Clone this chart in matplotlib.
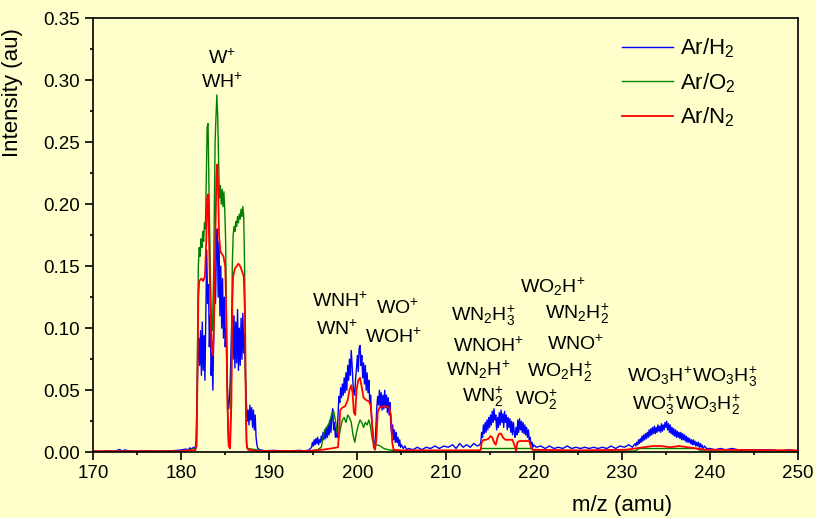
import matplotlib
matplotlib.use("Agg")
import matplotlib.pyplot as plt
from matplotlib.ticker import MultipleLocator, FormatStrFormatter

plt.rcParams["font.family"] = ["Liberation Sans", "DejaVu Sans"]
plt.rcParams["mathtext.fontset"] = "custom"
plt.rcParams["mathtext.rm"] = "Liberation Sans"
plt.rcParams["mathtext.it"] = "Liberation Sans"
plt.rcParams["mathtext.bf"] = "Liberation Sans:bold"
plt.rcParams["mathtext.default"] = "regular"

# ---- data ----
# Ar/H2 (blue)
h2_mz = [170.0, 171.0, 171.8, 172.5, 173.0, 173.3, 173.6, 174.0, 175.0, 176.0, 177.0, 178.0, 179.0,
         180.0, 180.5, 180.8, 181.0, 181.2, 181.4, 181.6,
         181.7, 181.8, 181.9, 182.0, 182.1, 182.2, 182.3, 182.4, 182.5, 182.6, 182.7, 182.8, 182.9,
         183.0, 183.1, 183.2, 183.3, 183.4, 183.5, 183.6, 183.7, 183.8, 183.9,
         184.0, 184.1, 184.2, 184.3, 184.4, 184.5, 184.6, 184.7, 184.8, 184.9,
         185.0, 185.1, 185.2, 185.3, 185.4, 185.5, 185.6, 185.7, 185.8, 185.9,
         186.0, 186.1, 186.2, 186.3, 186.4, 186.5, 186.6, 186.7, 186.8, 186.9,
         187.0, 187.1, 187.2, 187.3, 187.4, 187.5, 187.6, 187.7, 187.8, 187.9,
         188.0, 188.1, 188.2, 188.3, 188.4, 188.5, 188.6, 188.7, 188.9,
         189.5, 190.5, 191.5, 192.5, 193.5, 194.0, 194.5,
         194.8, 194.9, 195.0, 195.1, 195.2, 195.3, 195.4, 195.5, 195.6, 195.7, 195.8, 195.9,
         196.0, 196.1, 196.2, 196.3, 196.4, 196.5, 196.6, 196.7, 196.8, 196.9,
         197.0, 197.1, 197.2, 197.3, 197.4, 197.5, 197.6, 197.7, 197.8, 197.9,
         198.0, 198.1, 198.2, 198.3, 198.4, 198.5, 198.6, 198.7, 198.8, 198.9,
         199.0, 199.1, 199.2, 199.3, 199.4, 199.5, 199.6, 199.7, 199.8, 199.9,
         200.0, 200.1, 200.2, 200.3, 200.4, 200.5, 200.6, 200.7, 200.8, 200.9,
         201.0, 201.1, 201.2, 201.3, 201.4, 201.5, 201.6, 201.7, 201.8, 201.9,
         202.0, 202.1, 202.2, 202.3, 202.4, 202.5, 202.6, 202.7, 202.8, 202.9,
         203.0, 203.1, 203.2, 203.3, 203.4, 203.5, 203.6, 203.7, 203.8, 203.9,
         204.0, 204.1, 204.2, 204.3, 204.4, 204.5, 204.6, 204.7, 204.8, 204.9,
         205.0, 205.2, 205.4, 205.6,
         205.8, 206.3, 206.8, 207.3, 207.8, 208.3, 208.8, 209.3, 209.8, 210.3, 210.8,
         211.2, 211.6, 212.0, 212.4, 212.8, 213.2, 213.6, 213.9,
         214.0, 214.1, 214.2, 214.3, 214.4, 214.5, 214.6, 214.7, 214.8, 214.9,
         215.0, 215.1, 215.2, 215.3, 215.4, 215.5, 215.6, 215.7, 215.8, 215.9,
         216.0, 216.1, 216.2, 216.3, 216.4, 216.5, 216.6, 216.7, 216.8, 216.9,
         217.0, 217.1, 217.2, 217.3, 217.4, 217.5, 217.6, 217.7, 217.8, 217.9,
         218.0, 218.1, 218.2, 218.3, 218.4, 218.5, 218.6, 218.7, 218.8, 218.9,
         219.0, 219.1, 219.2, 219.3, 219.4, 219.5, 219.6, 219.7, 219.8, 219.9,
         220.0, 220.3,
         220.8, 221.3, 221.8, 222.3, 222.8, 223.3, 223.8, 224.3, 224.8, 225.3, 225.8,
         226.3, 226.8, 227.3, 227.8, 228.3, 228.8, 229.3, 229.8, 230.3, 230.8, 231.2,
         231.5, 231.6, 231.7, 231.8, 231.9,
         232.0, 232.1, 232.2, 232.3, 232.4, 232.5, 232.6, 232.7, 232.8, 232.9,
         233.0, 233.1, 233.2, 233.3, 233.4, 233.5, 233.6, 233.7, 233.8, 233.9,
         234.0, 234.1, 234.2, 234.3, 234.4, 234.5, 234.6, 234.7, 234.8, 234.9,
         235.0, 235.1, 235.2, 235.3, 235.4, 235.5, 235.6, 235.7, 235.8, 235.9,
         236.0, 236.1, 236.2, 236.3, 236.4, 236.5, 236.6, 236.7, 236.8, 236.9,
         237.0, 237.1, 237.2, 237.3, 237.4, 237.5, 237.6, 237.7, 237.8, 237.9,
         238.0, 238.1, 238.2, 238.3, 238.4, 238.5, 238.6, 238.7, 238.8, 238.9,
         239.0, 239.1, 239.2, 239.4, 239.6,
         240.0, 240.6, 241.2, 241.8, 242.5, 243.2, 244.0, 245.0, 246.0, 247.0, 248.0, 249.0, 250.0]
h2_int = [0.0008, 0.0006, 0.0012, 0.0008, 0.0022, 0.0010, 0.0018, 0.0012, 0.0008, 0.0012, 0.0009, 0.0010, 0.0012,
          0.0018, 0.0025, 0.0020, 0.0035, 0.0025, 0.0040, 0.0030,
          0.010, 0.045, 0.075, 0.092, 0.070, 0.098, 0.062, 0.105, 0.066, 0.094, 0.058, 0.110, 0.163,
          0.120, 0.135, 0.085, 0.110, 0.062, 0.080, 0.050, 0.095, 0.150, 0.120,
          0.165, 0.180, 0.125, 0.170, 0.110, 0.150, 0.100, 0.140, 0.092, 0.125,
          0.085, 0.100, 0.060, 0.042, 0.035, 0.045, 0.065, 0.095, 0.118, 0.075,
          0.110, 0.068, 0.105, 0.072, 0.115, 0.066, 0.100, 0.070, 0.108, 0.075,
          0.112, 0.080, 0.095, 0.060, 0.040, 0.025, 0.034, 0.022, 0.038, 0.026,
          0.036, 0.020, 0.034, 0.018, 0.030, 0.012, 0.006, 0.003, 0.002,
          0.0012, 0.0015, 0.0010, 0.0012, 0.0015, 0.0010, 0.0018,
          0.004, 0.008, 0.005, 0.010, 0.006, 0.011, 0.007, 0.012, 0.006, 0.010, 0.008, 0.013,
          0.009, 0.016, 0.010, 0.018, 0.011, 0.020, 0.012, 0.022, 0.014, 0.026,
          0.016, 0.030, 0.035, 0.018, 0.024, 0.012, 0.020, 0.012, 0.030, 0.045,
          0.040, 0.052, 0.044, 0.055, 0.046, 0.060, 0.048, 0.064, 0.050, 0.070,
          0.058, 0.075, 0.062, 0.082, 0.070, 0.055, 0.048, 0.046, 0.060, 0.068,
          0.078, 0.065, 0.084, 0.086, 0.070, 0.078, 0.060, 0.072, 0.055, 0.070,
          0.050, 0.064, 0.048, 0.058, 0.040, 0.046, 0.030, 0.020, 0.010, 0.006,
          0.008, 0.020, 0.036, 0.045, 0.038, 0.050, 0.036, 0.048, 0.034, 0.046,
          0.035, 0.050, 0.036, 0.046, 0.032, 0.044, 0.030, 0.040, 0.020, 0.014,
          0.022, 0.010, 0.018, 0.008, 0.016, 0.008, 0.012, 0.005, 0.010, 0.004,
          0.006, 0.003, 0.005, 0.002,
          0.003, 0.002, 0.004, 0.002, 0.004, 0.003, 0.005, 0.003, 0.005, 0.004, 0.006,
          0.003, 0.007, 0.004, 0.006, 0.004, 0.007, 0.005, 0.006,
          0.008, 0.016, 0.012, 0.022, 0.015, 0.024, 0.016, 0.026, 0.018, 0.028,
          0.020, 0.030, 0.022, 0.033, 0.024, 0.035, 0.026, 0.030, 0.018, 0.028,
          0.020, 0.032, 0.022, 0.034, 0.024, 0.031, 0.020, 0.033, 0.024, 0.030,
          0.018, 0.028, 0.020, 0.027, 0.016, 0.025, 0.014, 0.024, 0.016, 0.012,
          0.020, 0.014, 0.026, 0.016, 0.027, 0.018, 0.025, 0.016, 0.024, 0.015,
          0.022, 0.014, 0.020, 0.012, 0.018, 0.010, 0.012, 0.006, 0.008, 0.004,
          0.006, 0.004,
          0.005, 0.003, 0.005, 0.003, 0.004, 0.003, 0.005, 0.003, 0.004, 0.003, 0.004,
          0.003, 0.004, 0.003, 0.004, 0.003, 0.005, 0.003, 0.005, 0.004, 0.006, 0.004,
          0.007, 0.005, 0.008, 0.006, 0.010,
          0.007, 0.011, 0.008, 0.013, 0.009, 0.014, 0.010, 0.015, 0.011, 0.016,
          0.012, 0.018, 0.013, 0.019, 0.014, 0.020, 0.015, 0.021, 0.015, 0.020,
          0.016, 0.022, 0.017, 0.021, 0.016, 0.023, 0.017, 0.022, 0.018, 0.024,
          0.020, 0.025, 0.018, 0.023, 0.016, 0.022, 0.015, 0.020, 0.014, 0.019,
          0.013, 0.018, 0.012, 0.017, 0.012, 0.016, 0.011, 0.016, 0.010, 0.015,
          0.010, 0.014, 0.009, 0.013, 0.008, 0.012, 0.008, 0.011, 0.007, 0.010,
          0.006, 0.010, 0.006, 0.009, 0.005, 0.008, 0.005, 0.008, 0.004, 0.007,
          0.004, 0.006, 0.003, 0.005, 0.003,
          0.003, 0.002, 0.003, 0.002, 0.003, 0.002, 0.002, 0.002, 0.002, 0.002, 0.001, 0.002, 0.001]

# Ar/O2 (green)
o2_mz = [170.0, 175.0, 180.0, 180.5, 181.0, 181.4, 181.6,
         181.75, 181.85, 181.95, 182.05, 182.15, 182.25, 182.35, 182.45, 182.55, 182.65, 182.75,
         182.85, 182.95, 183.05, 183.15, 183.3, 183.45, 183.55, 183.7, 183.85, 183.95,
         184.05, 184.15, 184.25, 184.35, 184.45, 184.55, 184.65, 184.75, 184.85, 184.95,
         185.05, 185.15, 185.3, 185.4, 185.55, 185.7, 185.8, 185.9,
         186.0, 186.1, 186.2, 186.3, 186.4, 186.5, 186.6, 186.7, 186.8, 186.9,
         187.0, 187.1, 187.2, 187.3, 187.4, 187.55, 188.5, 189.5, 193.0,
         194.5, 195.5, 195.9, 196.1, 196.3, 196.5, 196.7, 196.9, 197.1, 197.3, 197.5, 197.7, 197.9,
         198.1, 198.3, 198.5, 198.7, 198.9, 199.1, 199.3, 199.5, 199.7, 199.9,
         200.1, 200.3, 200.5, 200.7, 200.9, 201.1, 201.3, 201.5, 201.7, 201.9,
         202.2, 202.6, 203.0, 203.5, 204.5,
         213.8, 214.1, 219.8, 220.1, 231.5, 232.0, 238.5, 239.0, 250.0]
o2_int = [0.0006, 0.0006, 0.0010, 0.0012, 0.0020, 0.0030, 0.0020,
          0.008, 0.080, 0.150, 0.165, 0.158, 0.172, 0.165, 0.178, 0.170, 0.185, 0.180,
          0.220, 0.262, 0.265, 0.215, 0.150, 0.100, 0.098, 0.150, 0.250, 0.270,
          0.288, 0.270, 0.235, 0.205, 0.215, 0.200, 0.212, 0.198, 0.210, 0.195,
          0.170, 0.100, 0.020, 0.005, 0.004, 0.060, 0.150, 0.175,
          0.182, 0.178, 0.186, 0.182, 0.190, 0.185, 0.192, 0.188, 0.196, 0.190,
          0.198, 0.190, 0.150, 0.060, 0.008, 0.003, 0.002, 0.001, 0.001,
          0.001, 0.002, 0.004, 0.012, 0.018, 0.020, 0.022, 0.026, 0.031, 0.033, 0.026, 0.016, 0.012,
          0.020, 0.026, 0.028, 0.024, 0.030, 0.028, 0.024, 0.014, 0.008, 0.016,
          0.022, 0.026, 0.024, 0.020, 0.024, 0.022, 0.026, 0.020, 0.010, 0.006,
          0.006, 0.005, 0.003, 0.002, 0.001,
          0.001, 0.003, 0.003, 0.001, 0.001, 0.003, 0.003, 0.001, 0.001]

# Ar/N2 (red)
n2_mz = [170.0, 180.0, 180.5, 181.5, 181.6,
         181.75, 181.85, 181.95, 182.05, 182.3, 182.5, 182.7, 182.85, 182.95, 183.05, 183.15,
         183.3, 183.45, 183.6, 183.75, 183.9, 184.0, 184.1, 184.2, 184.3, 184.45, 184.6, 184.8,
         185.0, 185.1, 185.25, 185.4, 185.55, 185.7, 185.8, 185.9, 186.1, 186.3, 186.5, 186.7,
         186.9, 187.1, 187.25, 187.35, 187.45, 187.6, 188.5, 190.0,
         194.5, 196.0, 197.0, 197.8, 197.95, 198.05, 198.3, 198.6, 198.9, 199.1, 199.3, 199.45,
         199.6, 199.75, 199.9, 200.1, 200.3, 200.5, 200.7, 201.0, 201.3, 201.5, 201.7, 201.85,
         202.0, 202.15, 202.3, 202.5, 202.9, 203.3, 203.6, 203.8, 203.95, 204.1, 205.0,
         213.9, 214.0, 214.1, 214.3, 214.6, 214.9, 215.1, 215.3, 215.5, 215.7, 215.9, 216.1,
         216.3, 216.5, 216.8, 217.2, 217.6, 217.9, 218.0, 218.15, 218.4, 218.8, 219.2, 219.5,
         219.7, 219.85, 225.0, 230.5, 231.5, 232.5, 233.5, 234.5, 235.5, 236.5, 237.5, 238.5,
         239.5, 250.0]
n2_int = [0.0008, 0.0008, 0.0015, 0.0015, 0.0015,
          0.005, 0.060, 0.125, 0.138, 0.140, 0.138, 0.142, 0.170, 0.205, 0.208, 0.180,
          0.120, 0.085, 0.078, 0.110, 0.180, 0.222, 0.232, 0.210, 0.175, 0.162, 0.160, 0.158,
          0.150, 0.120, 0.040, 0.005, 0.003, 0.040, 0.120, 0.142, 0.148, 0.150, 0.152, 0.150,
          0.146, 0.142, 0.110, 0.030, 0.004, 0.002, 0.001, 0.001,
          0.001, 0.002, 0.003, 0.004, 0.020, 0.034, 0.036, 0.037, 0.042, 0.050, 0.054, 0.048,
          0.032, 0.030, 0.050, 0.058, 0.060, 0.052, 0.044, 0.042, 0.041, 0.038, 0.020, 0.004,
          0.002, 0.010, 0.032, 0.036, 0.037, 0.037, 0.036, 0.030, 0.008, 0.002, 0.0015,
          0.0015, 0.002, 0.008, 0.010, 0.010, 0.011, 0.013, 0.012, 0.008, 0.006, 0.012, 0.015,
          0.015, 0.012, 0.010, 0.010, 0.010, 0.004, 0.001, 0.008, 0.009, 0.009, 0.009, 0.009,
          0.004, 0.002, 0.0015, 0.002, 0.003, 0.004, 0.005, 0.005, 0.004, 0.005, 0.004, 0.003,
          0.002, 0.0015]

# peak assignments: label, m/z, intensity (baseline)
ion_labels = ["$W^{+}$", "$WH^{+}$",
              "$WNH^{+}$", "$WN^{+}$", "$WO^{+}$", "$WOH^{+}$",
              "$WN_2H_3^{+}$", "$WNOH^{+}$", "$WN_2H^{+}$", "$WN_2^{+}$",
              "$WO_2H^{+}$", "$WN_2H_2^{+}$", "$WNO^{+}$", "$WO_2H_2^{+}$", "$WO_2^{+}$",
              "$WO_3H^{+}$", "$WO_3H_3^{+}$", "$WO_3^{+}$", "$WO_3H_2^{+}$"]
ion_mz = [184.6, 184.6,
          198.0, 197.7, 204.6, 204.1,
          214.3, 214.85, 213.7, 214.3,
          222.2, 224.9, 224.7, 223.0, 220.35,
          234.3, 241.7, 233.6, 239.8]
ion_int = [0.3135, 0.294,
           0.117, 0.095, 0.112, 0.0885,
           0.106, 0.081, 0.062, 0.0406,
           0.129, 0.108, 0.083, 0.0607, 0.038,
           0.0567, 0.0567, 0.0339, 0.0339]

bg = "#FFFFCC"
fig = plt.figure(figsize=(8.16, 5.18), dpi=100, facecolor=bg)
ax = fig.add_axes([0.114, 0.127, 0.864, 0.838])
ax.set_facecolor(bg)

ax.plot(h2_mz, h2_int, color="#0000FF", lw=1.0, label="Ar/H$_2$")
ax.plot(o2_mz, o2_int, color="#008000", lw=1.0, label="Ar/O$_2$")
ax.plot(n2_mz, n2_int, color="#FF0000", lw=1.3, label="Ar/N$_2$")

for lab, x, y in zip(ion_labels, ion_mz, ion_int):
    ax.text(x, y, lab, ha="center", va="baseline", fontsize=14)

ax.set_xlim(170, 250)
ax.set_ylim(0, 0.35)
ax.xaxis.set_major_locator(MultipleLocator(10))
ax.xaxis.set_minor_locator(MultipleLocator(5))
ax.yaxis.set_major_locator(MultipleLocator(0.05))
ax.yaxis.set_minor_locator(MultipleLocator(0.025))
ax.yaxis.set_major_formatter(FormatStrFormatter("%.2f"))
ax.tick_params(which="both", direction="out", top=False, right=False, labelsize=13.5, width=1.2, pad=4)
ax.tick_params(which="major", length=5.5)
ax.tick_params(which="minor", length=2.5)
for s in ax.spines.values():
    s.set_linewidth(1.2)

ax.set_xlabel("m/z (amu)", fontsize=16)
ax.xaxis.set_label_coords(0.75, -0.099)
ax.set_ylabel("Intensity (au)", fontsize=16)
ax.yaxis.set_label_coords(-0.099, 0.829)

ax.legend(loc="upper left", bbox_to_anchor=(0.75, 0.958), frameon=False, fontsize=16,
          handlelength=2.3, handletextpad=0.33, labelspacing=0.5, borderpad=0, borderaxespad=0)

fig.savefig("out.png", dpi=100, facecolor=bg)
